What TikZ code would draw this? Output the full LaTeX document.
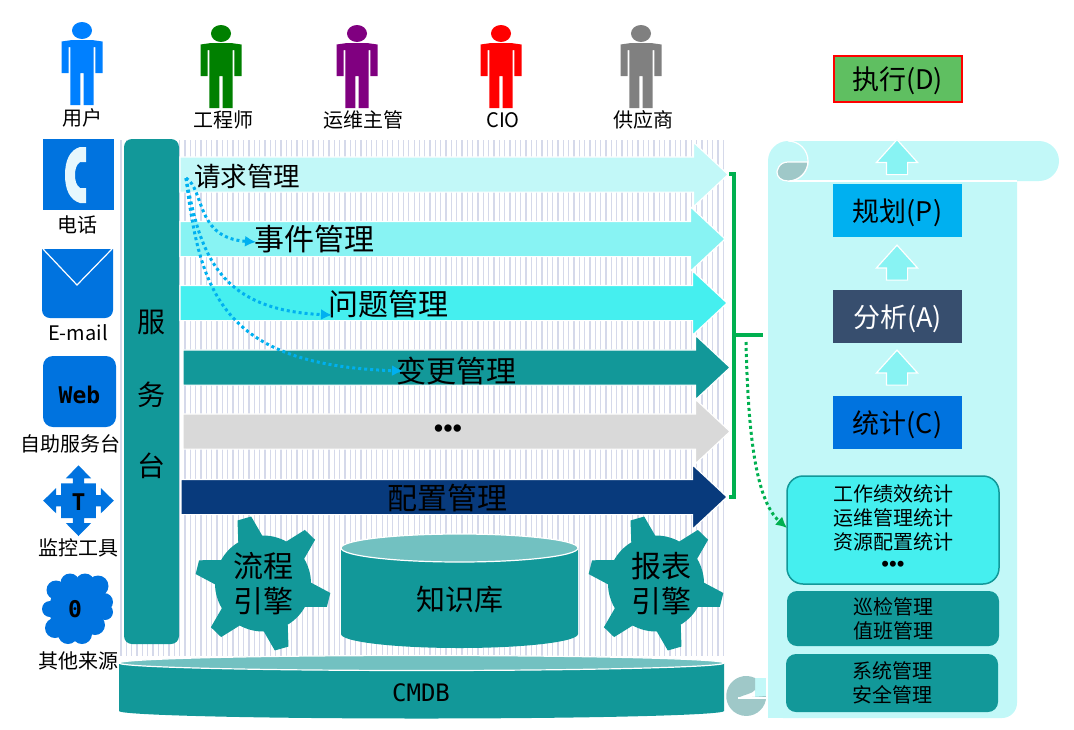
\documentclass[tikz,border=0pt]{standalone}
\usepackage{fontspec}
\setmainfont{Noto Sans CJK SC}
\newfontfamily\monofont{DejaVu Sans Mono}
\newfontfamily\dotfont{Liberation Sans}
\usepackage{xcolor}
\usetikzlibrary{arrows.meta, positioning, shapes.arrows}

\definecolor{teal1}{HTML}{129899}
\definecolor{teal2}{HTML}{72C1C1}
\definecolor{pale1}{HTML}{C2F8F8}
\definecolor{pale2}{HTML}{88F3F3}
\definecolor{pale3}{HTML}{45EFEF}
\definecolor{navy1}{HTML}{083A7C}
\definecolor{grey1}{HTML}{D9D9D9}
\definecolor{blue1}{HTML}{0073DF}
\definecolor{blue2}{HTML}{00B0F0}
\definecolor{slate1}{HTML}{374E6E}
\definecolor{green1}{HTML}{00B050}
\definecolor{green2}{HTML}{5FBF61}
\definecolor{curl1}{HTML}{9FC8C8}
\definecolor{hatch1}{HTML}{D5D9EA}

% left, right, top of the end ellipse centre, bottom of the side, radii
\newcommand{\drawdrum}[6]{
  \fill[teal1] (#1,#3) -- (#1,#4) arc [x radius=#5pt, y radius=#6pt, start angle=180, end angle=360] -- (#2,#3) -- cycle;
  \draw[white, line width=1.2pt, fill=teal2] ({(#1+#2)/2},#3) ellipse [x radius=#5pt, y radius=#6pt];
}
\newcommand{\lowr}[1]{\raisebox{-2pt}[\height][\depth]{#1}}

\tikzset{
  person/.pic={
    \fill[pic actions] (0,8.5) ellipse [x radius=10pt, y radius=8.5pt];
    \fill[pic actions] (-20.5,19.5) -- (-10,18) -- (10,18) -- (20.5,19.5) -- (20.5,51) -- (13.3,51)
      -- (13.3,25) -- (11.7,25) -- (11.7,83) -- (1.6,83) -- (1.6,51) -- (-1.6,51) -- (-1.6,83)
      -- (-11.7,83) -- (-11.7,25) -- (-13.3,25) -- (-13.3,51) -- (-20.5,51) -- cycle;
  },
  gear/.pic={
    \fill[teal1] (-28:48pt)
      \foreach \a in {-14,46,106,166,226,286} {
        -- ({\a-15}:48pt) -- ({\a-6}:68pt) -- ({\a+6}:68pt) -- ({\a+15}:48pt)
        arc [start angle=\a+15, end angle=\a+45, radius=48pt]
      } -- cycle;
  }
}

\begin{document}
\begin{tikzpicture}[x=1pt,y=-1pt]
    \tikzstyle{band}=[single arrow, single arrow head extend=14.5pt, single arrow tip angle=86,
      inner xsep=0pt, inner ysep=17pt, outer sep=0pt, anchor=west, draw=white, line width=1.2pt]
    \tikzstyle{uparrow}=[single arrow, shape border rotate=90, single arrow head extend=10pt,
      single arrow tip angle=84, minimum height=35pt, inner xsep=10pt, inner ysep=0pt,
      draw=white, line width=1.2pt, fill=pale2]
    \tikzstyle{pdca}=[minimum width=129pt, minimum height=53pt, inner sep=0pt, font=\fontsize{27}{30}\selectfont]
    \tikzstyle{teambox}=[minimum width=212pt, rounded corners=10pt, inner sep=0pt, fill=teal1, align=center,
      font=\fontsize{20}{24}\selectfont]
    \tikzstyle{who}=[inner sep=0pt, font=\fontsize{20}{22}\selectfont]
    \tikzstyle{bandtext}=[inner sep=0pt, font=\fontsize{30}{32}\selectfont]
    \tikzstyle{geartext}=[inner sep=0pt, align=center, font=\fontsize{30}{35}\selectfont]
    \tikzstyle{icontext}=[inner sep=0pt, font=\monofont\bfseries\fontsize{23}{25}\selectfont]
    \tikzstyle{bluedots}=[draw=blue2, line width=3pt, dash pattern=on 3pt off 3pt, -{Latex[length=11pt,width=11pt]}]

    \useasboundingbox (0,0) rectangle (1074,729);

    % hatch behind the bands
    \foreach \x in {0,...,113}
      \draw[hatch1, line width=1.3pt] ({121+5.33*\x},140) -- ({121+5.33*\x},656);

    % people
    \pic[fill={rgb,255:red,0;green,128;blue,255}] (user) at (82,22) {person};
    \pic[fill={rgb,255:red,0;green,128;blue,0}] (eng) at (221,25) {person};
    \pic[fill={rgb,255:red,128;green,0;blue,128}] (lead) at (357,25) {person};
    \pic[fill=red] (cio) at (501,25) {person};
    \pic[fill={rgb,255:red,128;green,128;blue,128}] (vendor) at (641,25) {person};
    \node[who] (userL) at (82,118) {用户};
    \node[who] (engL) at (223,120) {工程师};
    \node[who] (leadL) at (363,120) {运维主管};
    \node[who] (cioL) at (503,120) {CIO};
    \node[who] (vendorL) at (643,120) {供应商};

    % sources
    \node[fill=blue1, minimum size=71pt, inner sep=0pt] (phone) at (78.5,174.5) {};
    \fill[white!90!cyan] (86,147) -- (80,147) .. controls (70,150) and (65,160) .. (65,175)
      .. controls (65,190) and (70,200) .. (80,203) -- (86,203) -- (86,188) -- (80,188)
      .. controls (76,185) and (75,180) .. (75,175) .. controls (75,170) and (76,165) .. (80,162)
      -- (86,162) -- cycle;
    \node[who] (phoneL) at (77,225) {电话};
    \fill[blue1] (42,249) -- (113,249) [rounded corners=8pt] -- (113,318) -- (42,318) [sharp corners] -- cycle;
    \draw[white, line width=1.2pt] (43,249) -- (77,285) -- (112,249);
    \node[who] (mailL) at (78,333) {E-mail};
    \node[fill=blue1, minimum width=73pt, minimum height=71pt, rounded corners=10pt, icontext] (web) at (79.5,391.5) {\raisebox{-3pt}[\height][\depth]{Web}};
    \node[who] (webL) at (70,444) {自助服务台};
    \fill[blue1] (78.5,465.3) -- (91.2,478.4) -- (84.2,478.4) -- (84.2,483.4) -- (95.8,483.4) -- (95.8,495) -- (100.8,495)
      -- (100.8,488) -- (113.8,500.7) -- (100.8,513.4) -- (100.8,506.4) -- (95.8,506.4) -- (95.8,518) -- (84.2,518)
      -- (84.2,523) -- (91.2,523) -- (78.5,536) -- (65.8,523) -- (72.8,523) -- (72.8,518) -- (61.2,518) -- (61.2,506.4)
      -- (56.2,506.4) -- (56.2,513.4) -- (43.2,500.7) -- (56.2,488) -- (56.2,495) -- (61.2,495) -- (61.2,483.4)
      -- (72.8,483.4) -- (72.8,478.4) -- (65.8,478.4) -- cycle;
    \node[icontext] (mon) at (78.5,502) {T};
    \node[who] (monL) at (78,548) {监控工具};
    \fill[blue1] (77,609) circle (28pt);
    \foreach \cx/\cy/\cr in {56/590/9.5,70/583/9.5,85/583/9.5,98/586/10.5,104/602/9,105/612/8,95/625/10,82/634/10,68/634/10,55/628/10,50/609/8}
      \fill[blue1] (\cx,\cy) circle (\cr pt);
    \node[icontext] (otherT) at (75,609) {0};
    \node[who] (otherL) at (78,661) {其他来源};

    % service desk
    \node[fill=teal1, minimum width=55pt, minimum height=505pt, rounded corners=8pt, inner sep=0pt] (desk) at (151.5,391.5) {};
    \node[bandtext, font=\fontsize{28}{30}\selectfont] (desk1) at (151,322) {服};
    \node[bandtext, font=\fontsize{28}{30}\selectfont] (desk2) at (151,395) {务};
    \node[bandtext, font=\fontsize{28}{30}\selectfont] (desk3) at (151,466) {台};

    % bands
    \node[band, fill=pale1, minimum height=548pt] (req) at (180,174.5) {};
    \node[band, fill=pale2, minimum height=545pt] (inc) at (180,239) {};
    \node[band, fill=pale3, minimum height=547pt] (prb) at (180,303) {};
    \node[band, fill=teal1, minimum height=547pt] (chg) at (183,367.5) {};
    \node[band, fill=grey1, minimum height=547pt] (etc) at (183,431.5) {};
    \node[band, fill=navy1, minimum height=546pt] (cfg) at (181,497) {};
    \node[bandtext, font=\fontsize{26.5}{28}\selectfont] (reqT) at (247,176) {请求管理};
    \node[bandtext] (incT) at (314,239) {事件管理};
    \node[bandtext] (prbT) at (388,304) {问题管理};
    \node[bandtext] (chgT) at (456,371) {变更管理};
    \node[inner sep=0pt, font=\dotfont\fontsize{27}{28}\selectfont] (etcT) at (448,431) {•••};
    \node[bandtext] (cfgT) at (447,498) {配置管理};

    % tickets handed on
    \coordinate (src) at (186,178);
    \coordinate (incE) at (256,242);
    \coordinate (prbE) at (332,315);
    \coordinate (chgE) at (403,371);
    \draw[bluedots] (src) .. controls (205,190) and (195,238) .. (incE);
    \draw[bluedots] (src) .. controls (200,250) and (215,310) .. (prbE);
    \draw[bluedots] (src) .. controls (200,290) and (220,365) .. (chgE);

    % engines
    \pic (flow) at (263,583.5) {gear};
    \pic (report) at (656,583.5) {gear};
    \node[geartext] (flowT) at (263,584) {流程\\引擎};
    \node[geartext] (reportT) at (661,584) {报表\\引擎};
    \drawdrum{341}{578}{548}{634}{118.5}{14}
    \node[bandtext, font=\fontsize{29}{30}\selectfont] (kbT) at (460,600) {知识库};
    \drawdrum{119}{724}{663}{711}{302.5}{7.5}
    \node[icontext, font=\monofont\fontsize{24}{26}\selectfont] (cmdbT) at (421,693) {CMDB};

    % scroll
    \fill[pale1, rounded corners=15pt] (768,160) -- (1017,160) -- (1017,718) -- (768,718) [sharp corners] -- cycle;
    \fill[pale1, rounded corners=20pt] (768,141) rectangle (1059,181);
    \fill[pale1] (768,165) rectangle (790,718);
    \draw[white, line width=1.2pt] (788,181) -- (1017,181);
    \draw[white, line width=1.2pt] (788,141) arc [start angle=90, end angle=-90, radius=20pt];
    \draw[white, line width=1.2pt, fill=curl1] (808,162) -- (788,162) .. controls (778,162) and (777,172) .. (777,172)
      .. controls (777,177) and (781,181) .. (788,181) arc [start angle=-90, end angle=0, radius=20pt] -- cycle;
    \fill[pale1] (755,678) rectangle (768,698);
    \fill[curl1] (755,678) arc [start angle=64, end angle=270, radius=20pt] arc [start angle=-90, end angle=0, radius=20pt]
      -- (738,698) .. controls (745,694) and (752,694) .. (755,690) -- cycle;
    \draw[white, line width=1.2pt] (738,698) -- (767,698) -- (767,678);

    % pdca
    \node[pdca, fill=green2, draw=red, line width=2pt, minimum width=128pt, minimum height=46pt] (act) at (897.5,78.5) {\lowr{执行(D)}};
    \node[pdca, fill=blue2] (plan) at (897.5,210.5) {\lowr{规划(P)}};
    \node[pdca, fill=slate1, text=white] (ana) at (897.5,316.5) {\lowr{分析(A)}};
    \node[pdca, fill=blue1] (stat) at (897.5,422.5) {\lowr{统计(C)}};
    \node[uparrow] (up1) at (897,163) {};
    \node[uparrow] (up2) at (897,268.5) {};
    \node[uparrow] (up3) at (897,373.5) {};

    \node[fill=pale3, draw=teal1, line width=1.5pt, minimum width=212pt, minimum height=108pt, rounded corners=16pt] (box1) at (893,530) {};
    \node[inner sep=0pt, align=center, font=\fontsize{20}{24}\selectfont] (box1T) at (893,518) {工作绩效统计\\运维管理统计\\资源配置统计};
    \node[inner sep=0pt, font=\dotfont\fontsize{22}{24}\selectfont] (box1D) at (893,566) {•••};
    \node[teambox, minimum height=55pt] (box2) at (893,618.5) {巡检管理\\值班管理};
    \node[teambox, minimum height=58pt] (box3) at (892,683) {系统管理\\安全管理};

    % bracket
    \draw[green1, line width=4pt] (729,174) -- (734,174) -- (734,497) -- (729,497);
    \coordinate (brk) at (734,335);
    \coordinate (brkE) at (763,335);
    \draw[green1, line width=4pt] (brk) -- (brkE);
    \coordinate (gdot) at (746,342);
    \coordinate (gdotE) at (787,528);
    \draw[green1, line width=3pt, dash pattern=on 3pt off 3pt, -{Latex[length=11pt,width=11pt]}]
      (gdot) .. controls (748,430) and (755,500) .. (gdotE);
\end{tikzpicture}
\end{document}
